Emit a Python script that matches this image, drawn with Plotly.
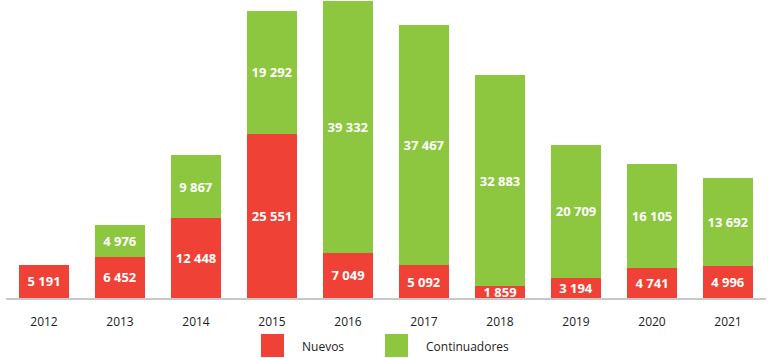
import plotly.graph_objects as go

years = ["2012", "2013", "2014", "2015", "2016", "2017", "2018", "2019", "2020", "2021"]
nuevos = [5191, 6452, 12448, 25551, 7049, 5092, 1859, 3194, 4741, 4996]
continuadores = [None, 4976, 9867, 19292, 39332, 37467, 32883, 20709, 16105, 13692]
series_names = ["Nuevos", "Continuadores"]

RED = "#EF4136"
GREEN = "#8DC63F"


def fmt(v):
    return "" if v is None else f"{v:,}".replace(",", " ")


fig = go.Figure()
for name, vals, col in [(series_names[0], nuevos, RED), (series_names[1], continuadores, GREEN)]:
    fig.add_trace(go.Bar(
        x=years, y=vals, name=name, marker=dict(color=col, line=dict(width=0)),
        text=[fmt(v) for v in vals], textposition="inside", insidetextanchor="middle",
        textfont=dict(family="Open Sans", size=13, color="white", weight="bold"),
        showlegend=False, cliponaxis=True,
    ))

fig.update_layout(
    barmode="stack", bargap=0.34,
    width=768, height=358,
    margin=dict(l=6, r=2, t=0, b=60, autoexpand=False),
    paper_bgcolor="white", plot_bgcolor="white",
    uniformtext=dict(minsize=13, mode="show"),
    xaxis=dict(showline=True, linecolor="#C8C8C8", linewidth=2, ticks="", ticklabelstandoff=12,
               automargin=False,
               tickfont=dict(family="Open Sans", size=12, color="#222222"), showgrid=False),
    yaxis=dict(range=[0, 46500], visible=False, showgrid=False, automargin=False),
    font=dict(family="Open Sans"),
)

# custom legend (large swatches)
legend_items = [(series_names[0], RED, 261, 300), (series_names[1], GREEN, 385, 424)]
for name, col, x0, tx in legend_items:
    fig.add_shape(type="rect", xref="paper", yref="paper",
                  x0=(x0 - 6) / 760, x1=(x0 + 23 - 6) / 760,
                  y0=(298 - 357) / 298, y1=(298 - 334) / 298,
                  fillcolor=col, line=dict(width=0))
    fig.add_annotation(text=name, xref="paper", yref="paper", x=(tx - 6) / 760,
                       y=(298 - 346) / 298, xanchor="left", yanchor="middle", showarrow=False,
                       font=dict(family="Open Sans", size=12, color="#222222"))

fig.write_html("out.html", config={"displayModeBar": False},
               post_script="document.body.style.margin='0';document.body.style.overflow='hidden';")
